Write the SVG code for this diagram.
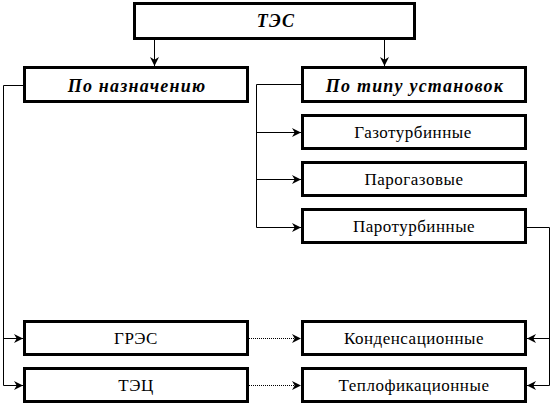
<svg xmlns="http://www.w3.org/2000/svg" width="555" height="408" viewBox="0 0 555 408">
<style>
.box{fill:#fff;stroke:#000;stroke-width:3}
.t{font-size:17px;letter-spacing:0.5px;text-anchor:middle;fill:#000}
.h{font-weight:bold;font-style:italic;font-size:18px;letter-spacing:1.2px}
.c{fill:none;stroke:#000;stroke-width:1}
.d{stroke-dasharray:1,1}
</style>
<defs>
<marker id="a" viewBox="0 0 10 10" refX="10" refY="5" markerWidth="9" markerHeight="9" markerUnits="userSpaceOnUse" orient="auto">
<path d="M0,0 L10,5 L0,10 L3,5 z" fill="#000"/>
</marker>
</defs>
<rect width="555" height="408" fill="#fff"/>
<g id="connectors">
<path class="c" d="M154.5,40 V66" marker-end="url(#a)"/>
<path class="c" d="M384.5,40 V66" marker-end="url(#a)"/>
<path class="c" d="M23,85.5 H3.5 V385.5 H23" marker-end="url(#a)"/>
<path class="c" d="M3.5,338.5 H23" marker-end="url(#a)"/>
<path class="c" d="M301,84.5 H256.5 V227.5 H301" marker-end="url(#a)"/>
<path class="c" d="M256.5,132.5 H301" marker-end="url(#a)"/>
<path class="c" d="M256.5,179.5 H301" marker-end="url(#a)"/>
<path class="c" d="M527,227.5 H549.5 V385.5 H527" marker-end="url(#a)"/>
<path class="c" d="M549.5,338.5 H527" marker-end="url(#a)"/>
<path class="c d" d="M249,338.5 H301" marker-end="url(#a)"/>
<path class="c d" d="M249,385.5 H301" marker-end="url(#a)"/>
</g>
<g font-family="Liberation Serif, Times New Roman, serif">
<g id="tes"><rect class="box" x="134.5" y="3.5" width="280" height="35"/><text class="t h" x="276" y="27">ТЭС</text></g>
<g id="po-naznacheniyu"><rect class="box" x="24.5" y="67.5" width="223" height="34"/><text class="t h" x="137" y="92">По назначению</text></g>
<g id="po-tipu"><rect class="box" x="302.5" y="67.5" width="223" height="34"/><text class="t h" x="415" y="92">По типу установок</text></g>
<g id="gazoturbinnye"><rect class="box" x="302.5" y="115.5" width="223" height="33"/><text class="t" x="413" y="138">Газотурбинные</text></g>
<g id="parogazovye"><rect class="box" x="302.5" y="162.5" width="223" height="33"/><text class="t" x="414" y="185">Парогазовые</text></g>
<g id="paroturbinnye"><rect class="box" x="302.5" y="209.5" width="223" height="33"/><text class="t" x="414" y="232">Паротурбинные</text></g>
<g id="gres"><rect class="box" x="24.5" y="321.5" width="223" height="33"/><text class="t" x="136" y="344">ГРЭС</text></g>
<g id="tec"><rect class="box" x="24.5" y="368.5" width="223" height="33"/><text class="t" x="136" y="391">ТЭЦ</text></g>
<g id="kondensacionnye"><rect class="box" x="302.5" y="321.5" width="223" height="33"/><text class="t" x="414" y="344">Конденсационные</text></g>
<g id="teplofikacionnye"><rect class="box" x="302.5" y="368.5" width="223" height="33"/><text class="t" x="414" y="391">Теплофикационные</text></g>
</g>
</svg>
